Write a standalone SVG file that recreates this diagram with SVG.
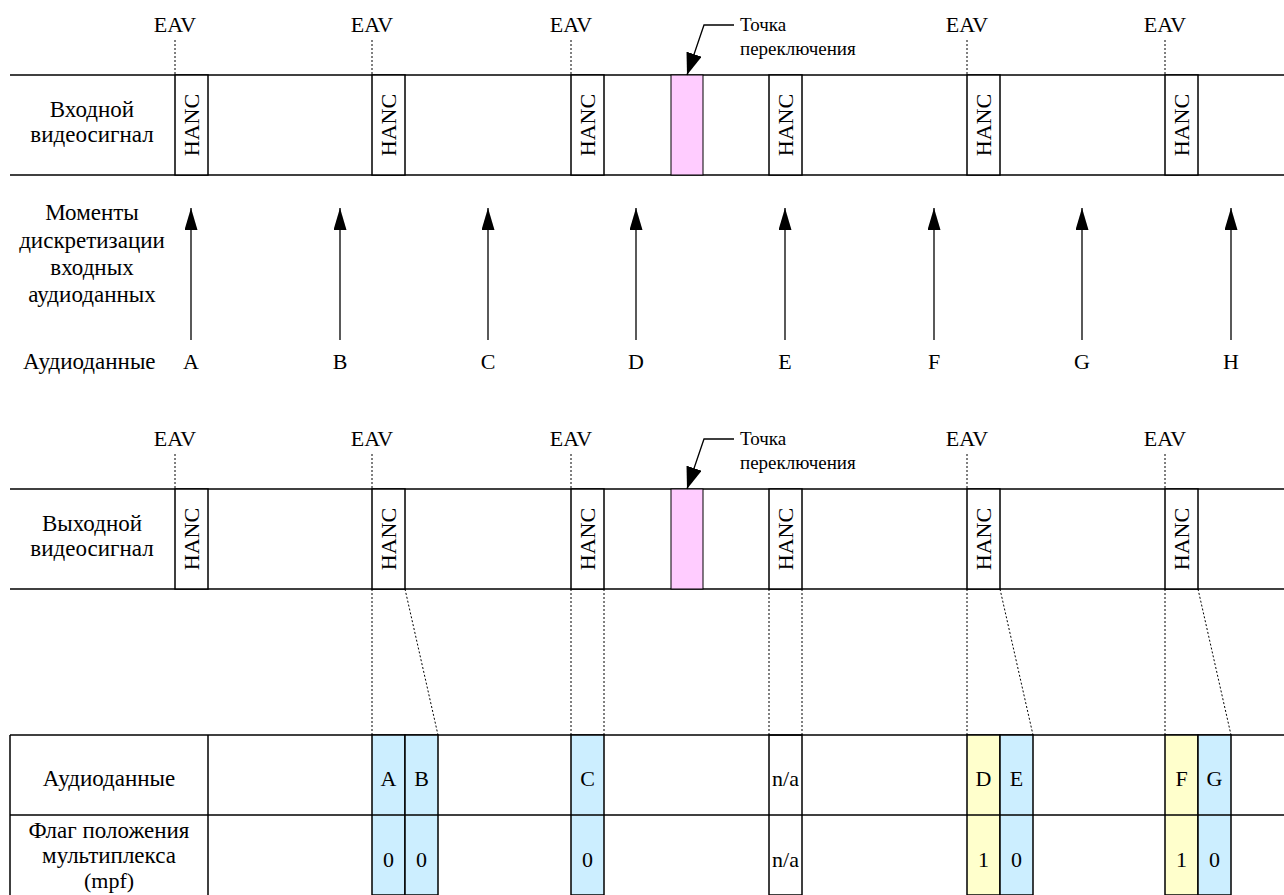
<svg xmlns="http://www.w3.org/2000/svg" width="1284" height="895" viewBox="0 0 1284 895">
<style>
text{font-family:"Liberation Serif","Liberation Sans",serif;font-size:22px;fill:#000}
.ru{font-size:23px}
.c{text-anchor:middle}
.sm{font-size:19px}
.band{stroke:#000;stroke-width:1.5;fill:none}
.box{stroke:#000;stroke-width:1.5;fill:#fff}
.pink{stroke:#000;stroke-width:1;fill:#FFCCFF}
.blue{stroke:#000;stroke-width:1.5;fill:#CCEEFF}
.yel{stroke:#000;stroke-width:1.5;fill:#FFFFCC}
.na{stroke:#000;stroke-width:1.5;fill:none}
.dot{stroke:#000;stroke-width:1;stroke-dasharray:2,2;fill:none}
.arr{stroke:#000;stroke-width:1.3;fill:none}
</style>
<defs>
<marker id="ah" viewBox="0 0 22 13" refX="22" refY="6.5" markerWidth="22" markerHeight="13" markerUnits="userSpaceOnUse" orient="auto"><path d="M0,0 L22,6.5 L0,13 z" fill="#000"/></marker>
<marker id="ah2" viewBox="0 0 22 16" refX="22" refY="8" markerWidth="22" markerHeight="16" markerUnits="userSpaceOnUse" orient="auto"><path d="M0,0 L22,8 L0,16 z" fill="#000"/></marker>
</defs>
<rect width="1284" height="895" fill="#fff"/>

<!-- Top: input video -->
<g id="input-band">
<line class="band" x1="10" y1="75" x2="1284" y2="75"/>
<line class="band" x1="10" y1="175" x2="1284" y2="175"/>
<text class="c ru" x="92" y="117">Входной</text>
<text class="c ru" x="92" y="142">видеосигнал</text>
</g>
<g id="in-hanc-1"><rect class="box" x="175" y="75" width="33" height="100"/><text class="c" dominant-baseline="central" transform="translate(191.5,125) rotate(-90)">HANC</text></g>
<g id="in-hanc-2"><rect class="box" x="372" y="75" width="33" height="100"/><text class="c" dominant-baseline="central" transform="translate(388.5,125) rotate(-90)">HANC</text></g>
<g id="in-hanc-3"><rect class="box" x="571" y="75" width="33" height="100"/><text class="c" dominant-baseline="central" transform="translate(587.5,125) rotate(-90)">HANC</text></g>
<g id="in-switch"><rect class="pink" x="671" y="75" width="32" height="100"/></g>
<g id="in-hanc-4"><rect class="box" x="769" y="75" width="33" height="100"/><text class="c" dominant-baseline="central" transform="translate(785.5,125) rotate(-90)">HANC</text></g>
<g id="in-hanc-5"><rect class="box" x="967" y="75" width="33" height="100"/><text class="c" dominant-baseline="central" transform="translate(983.5,125) rotate(-90)">HANC</text></g>
<g id="in-hanc-6"><rect class="box" x="1165" y="75" width="33" height="100"/><text class="c" dominant-baseline="central" transform="translate(1181.5,125) rotate(-90)">HANC</text></g>
<g id="in-eav">
<text class="c" x="175" y="32">EAV</text>
<text class="c" x="372" y="32">EAV</text>
<text class="c" x="571" y="32">EAV</text>
<text class="c" x="967" y="32">EAV</text>
<text class="c" x="1165" y="32">EAV</text>
</g>
<g id="in-switch-label">
<text class="sm" x="740" y="31">Точка</text>
<text class="sm" x="740" y="55">переключения</text>
</g>

<!-- Sampling moments -->
<g id="sampling-label">
<text class="c ru" x="92" y="220">Моменты</text>
<text class="c ru" x="92" y="248">дискретизации</text>
<text class="c ru" x="92" y="275">входных</text>
<text class="c ru" x="92" y="302">аудиоданных</text>
</g>
<g id="audio-row">
<text class="ru" x="23" y="369">Аудиоданные</text>
<text class="c" x="191" y="369">A</text>
<text class="c" x="340" y="369">B</text>
<text class="c" x="488" y="369">C</text>
<text class="c" x="636" y="369">D</text>
<text class="c" x="785" y="369">E</text>
<text class="c" x="934" y="369">F</text>
<text class="c" x="1082" y="369">G</text>
<text class="c" x="1231" y="369">H</text>
</g>

<!-- Bottom: output video -->
<g id="output-band">
<line class="band" x1="10" y1="489" x2="1284" y2="489"/>
<line class="band" x1="10" y1="589" x2="1284" y2="589"/>
<text class="c ru" x="92" y="531">Выходной</text>
<text class="c ru" x="92" y="556">видеосигнал</text>
</g>
<g id="out-hanc-1"><rect class="box" x="175" y="489" width="33" height="100"/><text class="c" dominant-baseline="central" transform="translate(191.5,539) rotate(-90)">HANC</text></g>
<g id="out-hanc-2"><rect class="box" x="372" y="489" width="33" height="100"/><text class="c" dominant-baseline="central" transform="translate(388.5,539) rotate(-90)">HANC</text></g>
<g id="out-hanc-3"><rect class="box" x="571" y="489" width="33" height="100"/><text class="c" dominant-baseline="central" transform="translate(587.5,539) rotate(-90)">HANC</text></g>
<g id="out-switch"><rect class="pink" x="671" y="489" width="32" height="100"/></g>
<g id="out-hanc-4"><rect class="box" x="769" y="489" width="33" height="100"/><text class="c" dominant-baseline="central" transform="translate(785.5,539) rotate(-90)">HANC</text></g>
<g id="out-hanc-5"><rect class="box" x="967" y="489" width="33" height="100"/><text class="c" dominant-baseline="central" transform="translate(983.5,539) rotate(-90)">HANC</text></g>
<g id="out-hanc-6"><rect class="box" x="1165" y="489" width="33" height="100"/><text class="c" dominant-baseline="central" transform="translate(1181.5,539) rotate(-90)">HANC</text></g>
<g id="out-eav">
<text class="c" x="175" y="446">EAV</text>
<text class="c" x="372" y="446">EAV</text>
<text class="c" x="571" y="446">EAV</text>
<text class="c" x="967" y="446">EAV</text>
<text class="c" x="1165" y="446">EAV</text>
</g>
<g id="out-switch-label">
<text class="sm" x="740" y="445">Точка</text>
<text class="sm" x="740" y="469">переключения</text>
</g>

<!-- Table -->
<g id="table">
<line class="band" x1="10" y1="735" x2="1284" y2="735"/>
<line class="band" x1="10" y1="735" x2="10" y2="895"/>
<line class="band" x1="208" y1="735" x2="208" y2="895"/>
<text class="c ru" x="109" y="786">Аудиоданные</text>
<text class="c ru" x="109" y="838">Флаг положения</text>
<text class="c ru" x="109" y="863">мультиплекса</text>
<text class="c" x="109" y="888">(mpf)</text>
</g>
<g id="cell-A"><rect class="blue" x="372" y="735" width="33" height="160"/><text class="c" x="388.5" y="786">A</text><text class="c" x="388.5" y="867">0</text></g>
<g id="cell-B"><rect class="blue" x="405" y="735" width="33" height="160"/><text class="c" x="421.5" y="786">B</text><text class="c" x="421.5" y="867">0</text></g>
<g id="cell-C"><rect class="blue" x="571" y="735" width="33" height="160"/><text class="c" x="587.5" y="786">C</text><text class="c" x="587.5" y="867">0</text></g>
<g id="cell-na"><rect class="na" x="769" y="735" width="33" height="160"/><text class="c" x="785.5" y="786">n/a</text><text class="c" x="785.5" y="867">n/a</text></g>
<g id="cell-D"><rect class="yel" x="967" y="735" width="33" height="160"/><text class="c" x="983.5" y="786">D</text><text class="c" x="983.5" y="867">1</text></g>
<g id="cell-E"><rect class="blue" x="1000" y="735" width="33" height="160"/><text class="c" x="1016.5" y="786">E</text><text class="c" x="1016.5" y="867">0</text></g>
<g id="cell-F"><rect class="yel" x="1165" y="735" width="33" height="160"/><text class="c" x="1181.5" y="786">F</text><text class="c" x="1181.5" y="867">1</text></g>
<g id="cell-G"><rect class="blue" x="1198" y="735" width="33" height="160"/><text class="c" x="1214.5" y="786">G</text><text class="c" x="1214.5" y="867">0</text></g>
<line class="band" x1="10" y1="815" x2="1284" y2="815"/>

<!-- Connectors -->
<g id="connectors">
<line class="dot" x1="175" y1="40" x2="175" y2="75"/>
<line class="dot" x1="372" y1="40" x2="372" y2="75"/>
<line class="dot" x1="571" y1="40" x2="571" y2="75"/>
<line class="dot" x1="967" y1="40" x2="967" y2="75"/>
<line class="dot" x1="1165" y1="40" x2="1165" y2="75"/>
<polyline class="arr" points="734,25 704,25 687,75" marker-end="url(#ah2)"/>

<line class="arr" x1="191" y1="340" x2="191" y2="208" marker-end="url(#ah)"/>
<line class="arr" x1="340" y1="340" x2="340" y2="208" marker-end="url(#ah)"/>
<line class="arr" x1="488" y1="340" x2="488" y2="208" marker-end="url(#ah)"/>
<line class="arr" x1="636" y1="340" x2="636" y2="208" marker-end="url(#ah)"/>
<line class="arr" x1="785" y1="340" x2="785" y2="208" marker-end="url(#ah)"/>
<line class="arr" x1="934" y1="340" x2="934" y2="208" marker-end="url(#ah)"/>
<line class="arr" x1="1082" y1="340" x2="1082" y2="208" marker-end="url(#ah)"/>
<line class="arr" x1="1231" y1="340" x2="1231" y2="208" marker-end="url(#ah)"/>

<line class="dot" x1="175" y1="454" x2="175" y2="489"/>
<line class="dot" x1="372" y1="454" x2="372" y2="489"/>
<line class="dot" x1="571" y1="454" x2="571" y2="489"/>
<line class="dot" x1="967" y1="454" x2="967" y2="489"/>
<line class="dot" x1="1165" y1="454" x2="1165" y2="489"/>
<polyline class="arr" points="734,439 704,439 687,489" marker-end="url(#ah2)"/>

<line class="dot" x1="372" y1="589" x2="372" y2="735"/>
<line class="dot" x1="405" y1="589" x2="438" y2="735"/>
<line class="dot" x1="571" y1="589" x2="571" y2="735"/>
<line class="dot" x1="604" y1="589" x2="604" y2="735"/>
<line class="dot" x1="769" y1="589" x2="769" y2="735"/>
<line class="dot" x1="802" y1="589" x2="802" y2="735"/>
<line class="dot" x1="967" y1="589" x2="967" y2="735"/>
<line class="dot" x1="1000" y1="589" x2="1033" y2="735"/>
<line class="dot" x1="1165" y1="589" x2="1165" y2="735"/>
<line class="dot" x1="1198" y1="589" x2="1231" y2="735"/>
</g>
</svg>
